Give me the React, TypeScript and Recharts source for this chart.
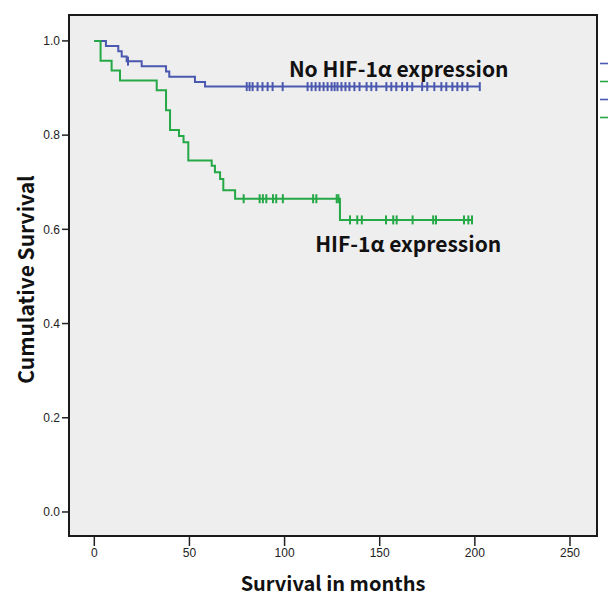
import {
  ComposedChart,
  Line,
  Scatter,
  XAxis,
  YAxis,
  CartesianGrid,
  ReferenceArea,
  ReferenceDot,
  Legend,
  Label,
} from "recharts";

// Kaplan-Meier steps (months, cumulative survival)
const noHifTimes = [0, 6.1, 12.6, 14.4, 17.0, 24.9, 37.7, 39.4, 52.9, 58.2, 202.6];
const noHifSurv = [1.0, 0.989, 0.978, 0.967, 0.957, 0.946, 0.935, 0.924, 0.913, 0.903, 0.903];
const noHifCensored = [
  17.7, 80.1, 81.6, 83.2, 85.8, 88.4, 91.1, 93.7, 99.0, 112.1, 114.2, 116.3, 118.4,
  120.5, 122.6, 124.7, 126.3, 127.8, 129.9, 132.0, 134.1, 136.7, 139.4, 143.1, 145.6,
  148.2, 153.5, 156.1, 158.7, 161.8, 164.4, 167.1, 172.3, 175.0, 178.7, 182.4, 185.0,
  188.2, 190.8, 193.4, 196.1, 202.6,
];

const hifTimes = [0, 3.3, 9.1, 13.5, 32.8, 37.7, 39.8, 44.5, 46.9, 49.4, 61.7, 63.4, 66.1, 67.8, 74.0, 129.1, 198.5];
const hifSurv = [1.0, 0.958, 0.937, 0.916, 0.895, 0.853, 0.811, 0.798, 0.785, 0.746, 0.735, 0.721, 0.707, 0.683, 0.665, 0.620, 0.620];
const hifCensored = [
  78.5, 86.9, 88.6, 90.4, 93.9, 95.6, 99.1, 115.0, 116.7, 127.4, 128.3,
  134.4, 138.2, 140.6, 153.3, 157.1, 158.9, 167.3, 178.1, 179.6, 194.3, 196.6, 198.5,
];

const xTicks = [0, 50, 100, 150, 200, 250];
const yTicks = [0, 0.2, 0.4, 0.6, 0.8, 1.0];
const xDomain = [-13.3, 264.2];
const yDomain = [-0.051, 1.055];

const BLUE = "#4a58b0";
const GREEN = "#25a846";
const legendColors = [BLUE, GREEN, BLUE, GREEN];

const toRows = (times: number[], surv: number[]) =>
  times.map((t, i) => ({ t, s: surv[i] }));

const survAt = (times: number[], surv: number[], t: number) => {
  let s = surv[0];
  for (let i = 0; i < times.length; i++) if (times[i] <= t) s = surv[i];
  return s;
};

const noHifRows = toRows(noHifTimes, noHifSurv);
const hifRows = toRows(hifTimes, hifSurv);
const noHifMarks = noHifCensored.map((t) => ({ t, s: survAt(noHifTimes, noHifSurv, t) }));
const hifMarks = hifCensored.map((t) => ({ t, s: survAt(hifTimes, hifSurv, t) }));

const censorShape = (color: string) => (props: any) => (
  <line
    x1={props.cx}
    x2={props.cx}
    y1={props.cy - 4.5}
    y2={props.cy + 4.5}
    stroke={color}
    strokeWidth={2}
  />
);

const TITLE_FONT = "'Noto Sans CJK KR', 'Noto Sans', sans-serif";
const TICK_STYLE = { fill: "#222", fontSize: 12, fontFamily: "'Liberation Sans', Arial, sans-serif" };

const note = (text: string) => (props: any) => (
  <text
    x={props.viewBox.x}
    y={props.viewBox.y}
    textAnchor="middle"
    dominantBaseline="central"
    fontFamily={TITLE_FONT}
    fontWeight={700}
    fontSize={21}
    fill="#111"
  >
    {text}
  </text>
);

export default function App() {
  return (
    <div style={{ position: "absolute", left: 0, top: 0, background: "#fff" }}>
      <ComposedChart
        width={608}
        height={596}
        margin={{ top: 15, right: 11, bottom: 5, left: 14 }}
      >
        <CartesianGrid fill="#eeeeee" horizontal={false} vertical={false} />
        <XAxis
          type="number"
          dataKey="t"
          domain={xDomain}
          ticks={xTicks}
          allowDataOverflow
          height={55}
          axisLine={false}
          tickSize={10}
          tickLine={{ stroke: "#222", strokeWidth: 1.5 }}
          tick={TICK_STYLE}
        >
          <Label
            content={(p: any) => (
              <text
                x={p.viewBox.x + p.viewBox.width / 2}
                y={p.viewBox.y + 46}
                textAnchor="middle"
                dominantBaseline="central"
                fontFamily={TITLE_FONT}
                fontWeight={700}
                fontSize={20}
                fill="#111"
              >
                Survival in months
              </text>
            )}
          />
        </XAxis>
        <YAxis
          type="number"
          dataKey="s"
          domain={yDomain}
          ticks={yTicks}
          allowDataOverflow
          width={55}
          axisLine={false}
          tickSize={7}
          tickLine={{ stroke: "#222", strokeWidth: 1.5 }}
          tick={TICK_STYLE}
          tickFormatter={(v: number) => v.toFixed(1)}
        >
          <Label
            content={(p: any) => (
              <text
                x={p.viewBox.x + 11}
                y={p.viewBox.y + p.viewBox.height / 2 + 4}
                transform={`rotate(-90 ${p.viewBox.x + 11} ${p.viewBox.y + p.viewBox.height / 2 + 4})`}
                textAnchor="middle"
                dominantBaseline="central"
                fontFamily={TITLE_FONT}
                fontWeight={700}
                fontSize={21}
                fill="#111"
              >
                Cumulative Survival
              </text>
            )}
          />
        </YAxis>
        <ReferenceArea
          x1={xDomain[0]}
          x2={xDomain[1]}
          y1={yDomain[0]}
          y2={yDomain[1]}
          fill="none"
          fillOpacity={0}
          stroke="#1a1a1a"
          strokeWidth={2}
        />
        <Line
          data={noHifRows}
          dataKey="s"
          type="stepAfter"
          stroke={BLUE}
          strokeWidth={2}
          dot={false}
          isAnimationActive={false}
        />
        <Line
          data={hifRows}
          dataKey="s"
          type="stepAfter"
          stroke={GREEN}
          strokeWidth={2}
          dot={false}
          isAnimationActive={false}
        />
        <Scatter data={noHifMarks} dataKey="s" shape={censorShape(BLUE)} isAnimationActive={false} />
        <Scatter data={hifMarks} dataKey="s" shape={censorShape(GREEN)} isAnimationActive={false} />
        <ReferenceDot x={160} y={0.943} r={0} fill="none" stroke="none" label={{ content: note("No HIF-1α expression") }} />
        <ReferenceDot x={165} y={0.571} r={0} fill="none" stroke="none" label={{ content: note("HIF-1α expression") }} />
        <Legend
          layout="vertical"
          align="center"
          verticalAlign="middle"
          wrapperStyle={{ position: "absolute", left: 600, top: 55, width: 8, height: 70 }}
          content={() => (
            <svg width={8} height={70} style={{ display: "block" }}>
              {legendColors.map((c, i) => (
                <line key={i} x1={0} x2={8} y1={8.5 + i * 18} y2={8.5 + i * 18} stroke={c} strokeWidth={1.6} />
              ))}
            </svg>
          )}
        />
      </ComposedChart>
    </div>
  );
}
